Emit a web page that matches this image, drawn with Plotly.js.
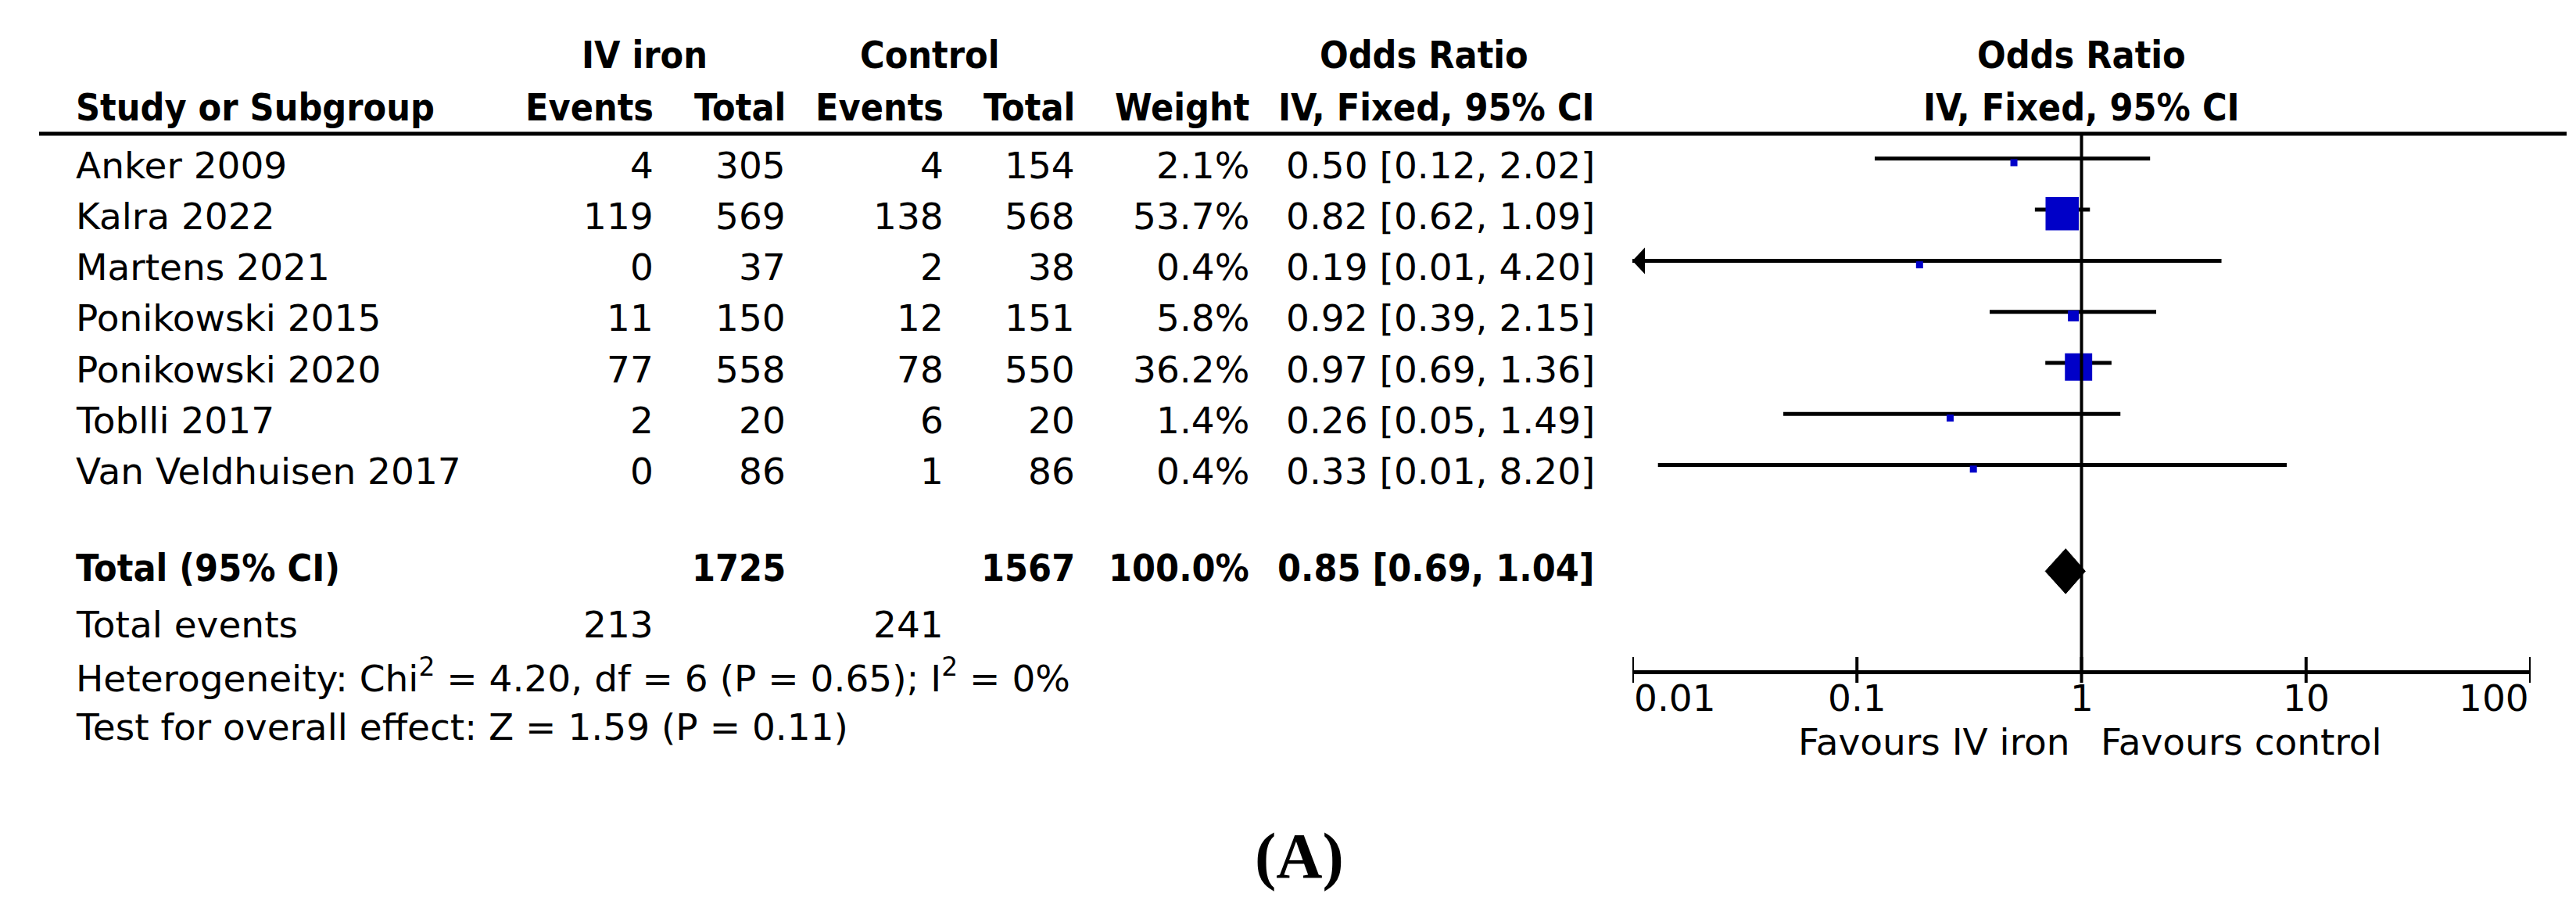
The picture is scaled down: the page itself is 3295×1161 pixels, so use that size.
<!DOCTYPE html>
<html>
<head>
<meta charset="utf-8">
<script src="https://cdn.plot.ly/plotly-3.0.1.min.js"></script>
<style>html,body{margin:0;padding:0;background:#fff;}#chart{width:3295px;height:1161px;}</style>
</head>
<body>
<div id="chart"></div>
<script>
// ---------------- DATA ----------------
const studies = ["Anker 2009", "Kalra 2022", "Martens 2021", "Ponikowski 2015", "Ponikowski 2020", "Toblli 2017", "Van Veldhuisen 2017"];
const ivEvents = [4, 119, 0, 11, 77, 2, 0];
const ivTotal = [305, 569, 37, 150, 558, 20, 86];
const ctrlEvents = [4, 138, 2, 12, 78, 6, 1];
const ctrlTotal = [154, 568, 38, 151, 550, 20, 86];
const weights = [2.1, 53.7, 0.4, 5.8, 36.2, 1.4, 0.4];
const oddsRatio = [0.50, 0.82, 0.19, 0.92, 0.97, 0.26, 0.33];
const ciLow = [0.12, 0.62, 0.008, 0.39, 0.69, 0.047, 0.013];
const ciHigh = [2.02, 1.09, 4.20, 2.15, 1.36, 1.49, 8.20];

const totalIv = 1725, totalCtrl = 1567, totalWeight = 100.0;
const totalOR = 0.85, totalLow = 0.69, totalHigh = 1.04;
const totalEventsIv = 213, totalEventsCtrl = 241;
const heterogeneityText = "Heterogeneity: Chi<sup>2</sup> = 4.20, df = 6 (P = 0.65); I<sup>2</sup> = 0%";
const overallText = "Test for overall effect: Z = 1.59 (P = 0.11)";

const tickVals = [0.01, 0.1, 1, 10, 100];
const tickLabels = ["0.01", "0.1", "1", "10", "100"];
const favoursLeft = "Favours IV iron";
const favoursRight = "Favours control";
const panelLabel = "(A)";

// ---------------- LAYOUT CONSTANTS ----------------
const W = 3295, H = 1161;
const ROW0_PX = 208, ROW_STEP = 65.3;
const HEADER_LINE_PX = 171, AXIS_PX = 857;
const PLOT_LEFT_PX = 2088, PLOT_RIGHT_PX = 3237;
const FONT = "DejaVu Sans";
const BOLD_FONT = "DejaVu Sans Condensed, DejaVu Sans";
const FS = 47, FSB = 48;
const BLUE = "#0000C8";

const rowPx = r => ROW0_PX + ROW_STEP * r;
const py = p => 1 - p / H;
const pxX = p => p / W;
const lg = v => Math.log10(v);
const xMin = lg(tickVals[0]), xMax = lg(tickVals[tickVals.length - 1]);

const annotations = [];
function txt(text, xPx, yPx, xanchor, bold, extra) {
  annotations.push(Object.assign({
    text: text, xref: "paper", yref: "paper", x: pxX(xPx), y: py(yPx),
    xanchor: xanchor, yanchor: "middle", showarrow: false,
    font: {family: bold ? BOLD_FONT : FONT, size: bold ? FSB : FS, color: "#000", weight: bold ? "bold" : "normal"}
  }, extra || {}));
}

// column positions (pixels)
const COL_NAME = 95, COL_IVEV = 838, COL_IVTOT = 1007, COL_CTEV = 1209, COL_CTTOT = 1377, COL_W = 1600, COL_OR = 2042;
const HDR1 = 70, HDR2 = 137, TXT_SHIFT = 3;

// headers
txt("IV iron", 824, HDR1, "center", true);
txt("Control", 1189, HDR1, "center", true);
txt("Odds Ratio", 1821, HDR1, "center", true);
txt("Odds Ratio", 2662, HDR1, "center", true);
txt("Study or Subgroup", COL_NAME, HDR2, "left", true);
txt("Events", COL_IVEV, HDR2, "right", true);
txt("Total", COL_IVTOT, HDR2, "right", true);
txt("Events", COL_CTEV, HDR2, "right", true);
txt("Total", COL_CTTOT, HDR2, "right", true);
txt("Weight", COL_W, HDR2, "right", true);
txt("IV, Fixed, 95% CI", COL_OR, HDR2, "right", true);
txt("IV, Fixed, 95% CI", 2662, HDR2, "center", true);

const fmt2 = v => v.toFixed(2);
studies.forEach((s, i) => {
  const y = rowPx(i) + TXT_SHIFT;
  txt(s, COL_NAME, y, "left", false);
  txt(String(ivEvents[i]), COL_IVEV, y, "right", false);
  txt(String(ivTotal[i]), COL_IVTOT, y, "right", false);
  txt(String(ctrlEvents[i]), COL_CTEV, y, "right", false);
  txt(String(ctrlTotal[i]), COL_CTTOT, y, "right", false);
  txt(weights[i].toFixed(1) + "%", COL_W, y, "right", false);
  txt(fmt2(oddsRatio[i]) + " [" + fmt2(ciLow[i]) + ", " + fmt2(ciHigh[i]) + "]", COL_OR, y, "right", false);
});

const totalRow = studies.length + 1;
const yT = rowPx(totalRow) - 4;
txt("Total (95% CI)", COL_NAME, yT, "left", true);
txt(String(totalIv), COL_IVTOT, yT, "right", true);
txt(String(totalCtrl), COL_CTTOT, yT, "right", true);
txt(totalWeight.toFixed(1) + "%", COL_W, yT, "right", true);
txt(fmt2(totalOR) + " [" + fmt2(totalLow) + ", " + fmt2(totalHigh) + "]", COL_OR, yT, "right", true);

txt("Total events", COL_NAME, rowPx(totalRow + 1) + TXT_SHIFT, "left", false);
txt(String(totalEventsIv), COL_IVEV, rowPx(totalRow + 1) + TXT_SHIFT, "right", false);
txt(String(totalEventsCtrl), COL_CTEV, rowPx(totalRow + 1) + TXT_SHIFT, "right", false);
txt(heterogeneityText, COL_NAME, rowPx(totalRow + 2) + TXT_SHIFT, "left", false);
txt(overallText, COL_NAME, rowPx(totalRow + 3) + TXT_SHIFT, "left", false);

// axis tick labels
tickVals.forEach((t, i) => {
  const anchor = i === 0 ? "left" : (i === tickVals.length - 1 ? "right" : "center");
  annotations.push({
    text: tickLabels[i], xref: "x", yref: "paper", x: lg(t), y: py(892),
    xanchor: anchor, yanchor: "middle", showarrow: false,
    font: {family: FONT, size: FS, color: "#000"}
  });
});
annotations.push({text: favoursLeft, xref: "x", yref: "paper", x: 0, xshift: -14, y: py(948), xanchor: "right", yanchor: "middle", showarrow: false, font: {family: FONT, size: FS, color: "#000"}});
annotations.push({text: favoursRight, xref: "x", yref: "paper", x: 0, xshift: 22, y: py(948), xanchor: "left", yanchor: "middle", showarrow: false, font: {family: FONT, size: FS, color: "#000"}});
annotations.push({text: panelLabel, xref: "paper", yref: "paper", x: pxX(1662), y: py(1094), xanchor: "center", yanchor: "middle", showarrow: false, font: {family: "Liberation Serif", size: 82, color: "#000", weight: "bold"}});

// ---------------- TRACES ----------------
const traces = [];
const LINE_OFF = -0.08; // CI line sits slightly above box centre
const ARROW_LEN = 16 / (PLOT_RIGHT_PX - PLOT_LEFT_PX) * (xMax - xMin);
const ARROW_HALF = 17 / ROW_STEP;
studies.forEach((s, i) => {
  const yl = i + LINE_OFF;
  const lo = Math.max(lg(ciLow[i]), xMin), hi = Math.min(lg(ciHigh[i]), xMax);
  traces.push({type: "scatter", mode: "lines", x: [lo, hi], y: [yl, yl], line: {color: "#000", width: 5}, hoverinfo: "skip", showlegend: false});
  if (lg(ciLow[i]) < xMin) {
    traces.push({type: "scatter", mode: "lines", fill: "toself", fillcolor: "#000",
      x: [xMin, xMin + ARROW_LEN, xMin + ARROW_LEN, xMin], y: [yl, yl - ARROW_HALF, yl + ARROW_HALF, yl],
      line: {color: "#000", width: 0}, hoverinfo: "skip", showlegend: false});
  }
  if (lg(ciHigh[i]) > xMax) {
    traces.push({type: "scatter", mode: "lines", fill: "toself", fillcolor: "#000",
      x: [xMax, xMax - ARROW_LEN, xMax - ARROW_LEN, xMax], y: [yl, yl - ARROW_HALF, yl + ARROW_HALF, yl],
      line: {color: "#000", width: 0}, hoverinfo: "skip", showlegend: false});
  }
});
traces.push({
  type: "scatter", mode: "markers", x: oddsRatio.map(lg), y: studies.map((s, i) => i),
  marker: {symbol: "square", color: BLUE, opacity: 1, size: weights.map(w => Math.max(9, 5.8 * Math.sqrt(w))), line: {width: 0}},
  hoverinfo: "skip", showlegend: false, cliponaxis: false
});
const DH = 0.44;
traces.push({
  type: "scatter", mode: "lines", fill: "toself", fillcolor: "#000",
  x: [lg(totalLow), lg(totalOR), lg(totalHigh), lg(totalOR), lg(totalLow)],
  y: [totalRow, totalRow - DH, totalRow, totalRow + DH, totalRow],
  line: {color: "#000", width: 1}, hoverinfo: "skip", showlegend: false
});

// ---------------- SHAPES ----------------
const shapes = [];
shapes.push({type: "line", xref: "paper", yref: "paper", x0: pxX(50), x1: pxX(3283), y0: py(HEADER_LINE_PX), y1: py(HEADER_LINE_PX), line: {color: "#000", width: 5}});
shapes.push({type: "line", xref: "x", yref: "paper", x0: 0, x1: 0, y0: py(AXIS_PX), y1: py(HEADER_LINE_PX), line: {color: "#000", width: 4}});
tickVals.forEach(t => {
  shapes.push({type: "line", xref: "x", yref: "paper", x0: lg(t), x1: lg(t), y0: py(AXIS_PX + 16), y1: py(AXIS_PX - 17), line: {color: "#000", width: 4}});
});

const layout = {
  width: W, height: H, margin: {l: 0, r: 0, t: 0, b: 0},
  paper_bgcolor: "#fff", plot_bgcolor: "rgba(0,0,0,0)",
  showlegend: false,
  xaxis: {type: "linear", range: [xMin, xMax], domain: [pxX(PLOT_LEFT_PX), pxX(PLOT_RIGHT_PX)],
    showgrid: false, zeroline: false, showline: true, linecolor: "#000", linewidth: 5,
    ticks: "", showticklabels: false, fixedrange: true},
  yaxis: {range: [(AXIS_PX - ROW0_PX) / ROW_STEP, (HEADER_LINE_PX - ROW0_PX) / ROW_STEP],
    domain: [py(AXIS_PX), py(HEADER_LINE_PX)],
    showgrid: false, zeroline: false, showline: false, ticks: "", showticklabels: false, fixedrange: true},
  annotations: annotations, shapes: shapes
};

Plotly.newPlot("chart", traces, layout, {staticPlot: true, displayModeBar: false});
</script>
</body>
</html>
